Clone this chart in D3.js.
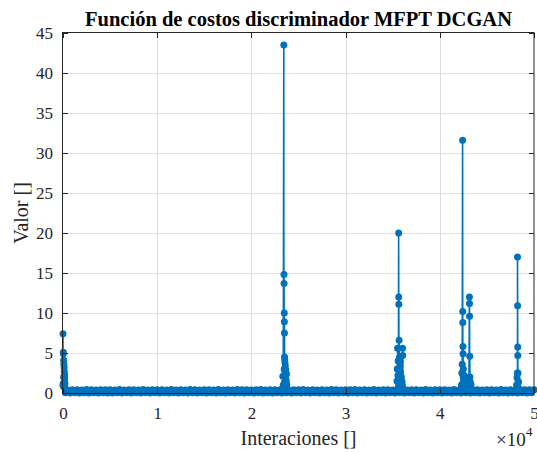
<!DOCTYPE html>
<html><head><meta charset="utf-8">
<script src="https://cdn.jsdelivr.net/npm/d3@7"></script>
<style>
html,body{margin:0;padding:0;background:#fff;}
svg{display:block;font-family:"Liberation Serif","Times New Roman",serif;}
</style></head>
<body>
<svg id="chart" width="537" height="453"></svg>
<script>
// ---------------- data ----------------
const title = "Función de costos discriminador MFPT DCGAN";
const xLabel = "Interaciones []";
const yLabel = "Valor []";
const xTicks = [0, 1, 2, 3, 4, 5];           // ×10^4
const yTicks = [0, 5, 10, 15, 20, 25, 30, 35, 40, 45];

// baseline samples (every 250 iterations) — values near zero
const baseStep = 250;
const baseValues = [
 0.9,0.02,0.38,0.0,0.42,0.03,0.4,0.01,0.36,0.02,0.44,0.0,0.4,0.03,0.38,0.01,0.42,0.02,0.4,0.0,
 0.41,0.01,0.39,0.03,0.43,0.0,0.37,0.02,0.4,0.01,0.42,0.03,0.38,0.0,0.44,0.02,0.39,0.01,0.41,0.03,
 0.4,0.0,0.42,0.02,0.36,0.01,0.43,0.03,0.39,0.0,0.41,0.02,0.38,0.01,0.44,0.03,0.4,0.0,0.37,0.02,
 0.42,0.01,0.4,0.03,0.38,0.0,0.43,0.02,0.39,0.01,0.41,0.03,0.36,0.0,0.44,0.02,0.4,0.01,0.42,0.03,
 0.38,0.0,0.41,0.02,0.43,0.01,0.37,0.03,0.4,0.0,0.42,0.02,0.39,0.01,0.44,0.03,0.38,0.0,0.41,0.02,
 0.4,0.01,0.43,0.03,0.36,0.0,0.42,0.02,0.39,0.01,0.41,0.03,0.38,0.0,0.44,0.02,0.4,0.01,0.37,0.03,
 0.42,0.0,0.4,0.02,0.43,0.01,0.38,0.03,0.41,0.0,0.39,0.02,0.44,0.01,0.36,0.03,0.42,0.0,0.4,0.02,
 0.38,0.01,0.43,0.03,0.41,0.0,0.37,0.02,0.4,0.01,0.42,0.03,0.39,0.0,0.44,0.02,0.38,0.01,0.41,0.03,
 0.4,0.0,0.42,0.02,0.36,0.01,0.43,0.03,0.39,0.0,0.41,0.02,0.38,0.01,0.44,0.03,0.4,0.0,0.37,0.02,
 0.42,0.01,0.4,0.03,0.38,0.0,0.43,0.02,0.39,0.01,0.41,0.03,0.36,0.0,0.44,0.02,0.4,0.01,0.42,0.03,
 0.4
];

// spike clusters: iterations and cost values
const spikeIter0 = [0, 15, 30, 45, 60, 75, 90, 105, 120, 135, 150, 165, 180, 195, 210];
const spikeVal0  = [7.4, 1.2, 5.1, 4.9, 2.0, 4.1, 3.6, 0.8, 3.2, 2.7, 1.5, 2.3, 1.9, 0.6, 1.2];

const spikeIter1 = [23300, 23340, 23380, 23440, 23450, 23460, 23470, 23480, 23490, 23500, 23510, 23520, 23530, 23540, 23560, 23580, 23600, 23620, 23640, 23660, 23690, 23720, 23750, 23780];
const spikeVal1  = [0.6, 2.1, 1.0, 43.5, 1.0, 14.8, 13.7, 3.0, 10.0, 8.9, 7.5, 4.5, 1.4, 4.2, 3.8, 2.6, 3.4, 0.8, 2.9, 2.2, 1.6, 2.4, 1.1, 0.5];

const spikeIter2 = [35450, 35480, 35520, 35550, 35580, 35610, 35630, 35640, 35650, 35660, 35680, 35700, 35730, 35760, 35800, 35840, 35880, 35920, 35960, 36000, 36040, 36050, 36060, 36090];
const spikeVal2  = [1.5, 3.0, 5.6, 2.2, 4.0, 0.8, 20.0, 12.0, 11.1, 2.8, 6.6, 4.4, 1.2, 3.3, 3.9, 2.5, 1.0, 2.0, 0.6, 1.4, 0.9, 5.6, 4.7, 0.4];

const spikeIter3 = [42250, 42300, 42340, 42380, 42420, 42430, 42440, 42450, 42460, 42470, 42480, 42500, 42520, 42560, 42600, 42640, 42700];
const spikeVal3  = [0.5, 1.0, 2.5, 3.6, 31.6, 10.2, 8.8, 1.2, 5.8, 4.9, 2.0, 3.0, 1.5, 0.7, 2.2, 1.0, 0.5];

const spikeIter4 = [43050, 43100, 43140, 43150, 43160, 43170, 43180, 43200, 43220, 43260, 43300];
const spikeVal4  = [0.8, 1.9, 12.0, 11.2, 9.6, 1.5, 4.6, 2.0, 1.4, 0.6, 1.1];

const spikeIter5 = [48150, 48200, 48230, 48250, 48260, 48270, 48280, 48290, 48300, 48320, 48360, 48400];
const spikeVal5  = [1.0, 1.9, 2.5, 17.0, 10.9, 5.75, 4.7, 1.2, 2.5, 0.6, 1.4, 0.4];

// ---------------- build series ----------------
const points = baseValues.map((v, i) => ({x: i * baseStep, y: v}));
[[spikeIter0, spikeVal0], [spikeIter1, spikeVal1], [spikeIter2, spikeVal2],
 [spikeIter3, spikeVal3], [spikeIter4, spikeVal4], [spikeIter5, spikeVal5]]
  .forEach(([it, vals]) => it.forEach((x, i) => points.push({x: x, y: vals[i]})));
points.sort((a, b) => a.x - b.x);

// ---------------- layout ----------------
const svg = d3.select("#chart");
const L = 63, R = 534, T = 33, B = 393;
const x = d3.scaleLinear().domain([0, 50000]).range([L, R]);
const y = d3.scaleLinear().domain([0, 45]).range([B, T]);
const axisColor = "#262626", gridColor = "#dfdfdf", lineColor = "#0072BD";
const serif = '"Liberation Serif","Times New Roman",serif';

// grid
const g = svg.append("g");
g.selectAll(".gx").data(xTicks.slice(1, -1)).enter().append("line")
  .attr("x1", d => Math.round(x(d * 1e4)) + 0.5).attr("x2", d => Math.round(x(d * 1e4)) + 0.5)
  .attr("y1", T).attr("y2", B).attr("stroke", gridColor).attr("stroke-width", 1);
g.selectAll(".gy").data(yTicks.slice(1, -1)).enter().append("line")
  .attr("y1", d => Math.round(y(d)) + 0.5).attr("y2", d => Math.round(y(d)) + 0.5)
  .attr("x1", L).attr("x2", R).attr("stroke", gridColor).attr("stroke-width", 1);

// data line + markers
const plot = svg.append("g");
plot.append("path").datum(points)
  .attr("fill", "none").attr("stroke", lineColor).attr("stroke-width", 1.6)
  .attr("d", d3.line().x(d => x(d.x)).y(d => y(d.y)));
plot.selectAll("circle").data(points).enter().append("circle")
  .attr("cx", d => x(d.x)).attr("cy", d => y(d.y)).attr("r", 3.5)
  .attr("fill", lineColor);

// axes
const xAxisB = d3.axisBottom(x).tickValues(xTicks.map(d => d * 1e4)).tickSize(0).tickFormat(d => d / 1e4);
const yAxisL = d3.axisLeft(y).tickValues(yTicks).tickSize(0);
const xa = svg.append("g").attr("transform", `translate(0,${B + 0.5})`).call(xAxisB);
const ya = svg.append("g").attr("transform", `translate(${L - 0.5},0)`).call(yAxisL);
[xa, ya].forEach(a => {
  a.attr("font-family", serif).attr("font-size", 17);
  a.select(".domain").remove();
  a.selectAll("text").attr("fill", axisColor);
});
xa.selectAll("text").attr("dy", "0").attr("y", 25);
ya.selectAll("text").attr("dy", "0.34em").attr("x", -9.5);

// inward ticks on all four sides
const tk = 5;
const tg = svg.append("g").attr("stroke", axisColor).attr("stroke-width", 1);
xTicks.forEach(t => {
  const px = Math.round(x(t * 1e4)) + 0.5;
  tg.append("line").attr("x1", px).attr("x2", px).attr("y1", B).attr("y2", B - tk);
  tg.append("line").attr("x1", px).attr("x2", px).attr("y1", T).attr("y2", T + tk);
});
yTicks.forEach(t => {
  const py = Math.round(y(t)) + 0.5;
  tg.append("line").attr("y1", py).attr("y2", py).attr("x1", L).attr("x2", L + tk);
  tg.append("line").attr("y1", py).attr("y2", py).attr("x1", R).attr("x2", R - tk);
});
svg.append("rect").attr("x", L - 0.5).attr("y", T - 0.5).attr("width", R - L + 0.5).attr("height", B - T + 1)
  .attr("fill", "none").attr("stroke", axisColor).attr("stroke-width", 1);

// title & labels
svg.append("text").attr("x", (L + R) / 2).attr("y", 26).attr("text-anchor", "middle")
  .attr("font-weight", "bold").attr("font-size", 20.5).attr("fill", "#000").text(title);
svg.append("text").attr("x", (L + R) / 2).attr("y", 445).attr("text-anchor", "middle")
  .attr("font-size", 20).attr("fill", axisColor).text(xLabel);
svg.append("text").attr("transform", `translate(27.5,${(T + B) / 2}) rotate(-90)`).attr("text-anchor", "middle")
  .attr("font-size", 20).attr("fill", axisColor).text(yLabel);
const ex = svg.append("text").attr("x", 496).attr("y", 446).attr("font-size", 19).attr("fill", axisColor);
ex.append("tspan").text("×10");
ex.append("tspan").attr("font-size", 13.5).attr("dy", -10).text("4");
</script>
</body></html>
